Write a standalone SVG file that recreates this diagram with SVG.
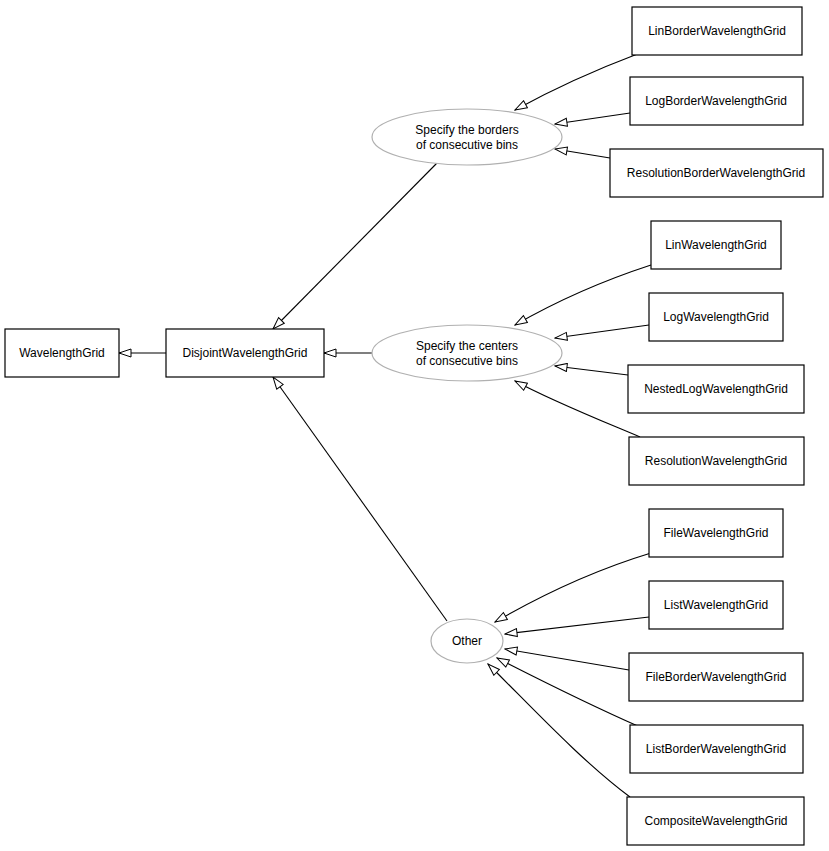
<svg xmlns="http://www.w3.org/2000/svg" width="829" height="851" viewBox="0 0 829 851">
<style>
text{font-family:"Liberation Sans",Arial,sans-serif;font-size:12px;fill:#000;text-anchor:middle}
.n rect{fill:#fff;stroke:#000;stroke-width:1.2}
.n ellipse{fill:#fff;stroke:#b0b0b0;stroke-width:1.2}
#edges path{fill:none;stroke:#000;stroke-width:1.1;marker-end:url(#tri)}
</style>
<defs>
<marker id="tri" markerWidth="14" markerHeight="10" refX="13" refY="5" orient="auto" markerUnits="userSpaceOnUse">
<path d="M1,1 L13,5 L1,9 Z" fill="#fff" stroke="#000" stroke-width="1"/>
</marker>
</defs>
<rect width="829" height="851" fill="#fff"/>
<g id="edges">
<path d="M166,353 L119,353"/>
<path d="M437,163 L273,329"/>
<path d="M372,353 L324,353"/>
<path d="M447,621 L273,377"/>
<path d="M640,53 C595,70 555,88 515,110"/>
<path d="M630,113 L555,124"/>
<path d="M610,158 L555,149"/>
<path d="M651,265 C605,280 555,302 515,325"/>
<path d="M649,325 L555,338"/>
<path d="M628,375 L555,366"/>
<path d="M640,437 C595,418 550,400 515,381"/>
<path d="M651,553 C595,570 540,596 495,622"/>
<path d="M649,617 L505,634"/>
<path d="M629,670 L505,649"/>
<path d="M640,727 C590,705 540,680 497,658"/>
<path d="M630,797 C580,760 525,700 488,664"/>
</g>
<g id="WavelengthGrid" class="n"><rect x="5" y="329" width="114" height="48"/><text x="62" y="357">WavelengthGrid</text></g>
<g id="DisjointWavelengthGrid" class="n"><rect x="166" y="329" width="158" height="48"/><text x="245" y="357">DisjointWavelengthGrid</text></g>
<g id="borders" class="n"><ellipse cx="467" cy="137" rx="95" ry="28"/><text x="467" y="134">Specify the borders</text><text x="467" y="149">of consecutive bins</text></g>
<g id="centers" class="n"><ellipse cx="467" cy="353" rx="95" ry="28"/><text x="467" y="350">Specify the centers</text><text x="467" y="365">of consecutive bins</text></g>
<g id="other" class="n"><ellipse cx="467" cy="641" rx="36" ry="22"/><text x="467" y="645">Other</text></g>
<g id="LinBorderWavelengthGrid" class="n"><rect x="632" y="7" width="170" height="48"/><text x="717" y="35">LinBorderWavelengthGrid</text></g>
<g id="LogBorderWavelengthGrid" class="n"><rect x="630" y="77" width="173" height="48"/><text x="716" y="105">LogBorderWavelengthGrid</text></g>
<g id="ResolutionBorderWavelengthGrid" class="n"><rect x="610" y="149" width="213" height="48"/><text x="716" y="177">ResolutionBorderWavelengthGrid</text></g>
<g id="LinWavelengthGrid" class="n"><rect x="651" y="221" width="130" height="48"/><text x="716" y="249">LinWavelengthGrid</text></g>
<g id="LogWavelengthGrid" class="n"><rect x="649" y="293" width="134" height="48"/><text x="716" y="321">LogWavelengthGrid</text></g>
<g id="NestedLogWavelengthGrid" class="n"><rect x="628" y="365" width="176" height="48"/><text x="716" y="393">NestedLogWavelengthGrid</text></g>
<g id="ResolutionWavelengthGrid" class="n"><rect x="629" y="437" width="175" height="48"/><text x="716" y="465">ResolutionWavelengthGrid</text></g>
<g id="FileWavelengthGrid" class="n"><rect x="649" y="509" width="134" height="48"/><text x="716" y="537">FileWavelengthGrid</text></g>
<g id="ListWavelengthGrid" class="n"><rect x="649" y="581" width="134" height="48"/><text x="716" y="609">ListWavelengthGrid</text></g>
<g id="FileBorderWavelengthGrid" class="n"><rect x="629" y="653" width="174" height="48"/><text x="716" y="681">FileBorderWavelengthGrid</text></g>
<g id="ListBorderWavelengthGrid" class="n"><rect x="630" y="725" width="173" height="48"/><text x="716" y="753">ListBorderWavelengthGrid</text></g>
<g id="CompositeWavelengthGrid" class="n"><rect x="627" y="797" width="177" height="48"/><text x="716" y="825">CompositeWavelengthGrid</text></g>
</svg>
